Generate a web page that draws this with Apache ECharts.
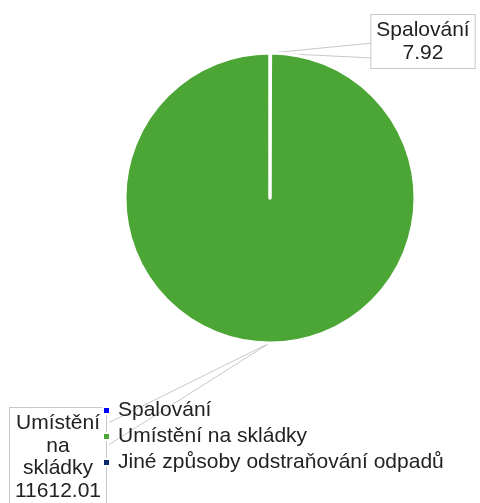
<!DOCTYPE html>
<html><head><meta charset="utf-8">
<script src="https://cdn.jsdelivr.net/npm/echarts@6/dist/echarts.min.js"></script>
<style>html,body{margin:0;padding:0;background:#fff}#c{width:480px;height:503px}</style>
</head><body><div id="c"></div>
<script>
const categories = ['Spalování', 'Umístění na skládky', 'Jiné způsoby odstraňování odpadů'];
const values = [7.92, 11612.01, 0];
const colors = ['#0000ff', '#4ca635', '#0c2a6e'];

const chart = echarts.init(document.getElementById('c'));
const FONT = 'Liberation Sans';
// label box centres
const boxPos = [
  {x: 423, y: 41.5, align: 'center', verticalAlign: 'middle'},
  {x: 58, y: 457, align: 'center', verticalAlign: 'middle'}
];
// callout wedge ends (two edges per label)
const wedgeA = [{x: 373, y: 43}, {x: 109, y: 423}];
const wedgeB = [{x: 373, y: 58}, {x: 109, y: 445}];

const pieBase = {
  type: 'pie',
  center: [270, 198], radius: 145,
  startAngle: 90, clockwise: true,
  avoidLabelOverlap: false
};
function guideSeries(ends) {
  return Object.assign({}, pieBase, {
    silent: true,
    itemStyle: {color: 'rgba(0,0,0,0)', borderWidth: 0},
    label: {show: true, formatter: ' ', fontSize: 1, padding: 0, color: 'rgba(0,0,0,0)'},
    labelLine: {show: true, length: 0, length2: 0, lineStyle: {color: '#c8c8c8', width: 1}},
    labelLayout: p => ends[p.dataIndex] ? {x: ends[p.dataIndex].x, y: ends[p.dataIndex].y, align: 'left', verticalAlign: 'middle'} : {},
    data: categories.map((n, i) => ({name: n, value: values[i], label: {show: i < 2}, labelLine: {show: i < 2}}))
  });
}
chart.setOption({
  animation: false,
  color: colors,
  legend: {
    orient: 'vertical', left: 102, top: 400, padding: 0,
    icon: 'rect', itemWidth: 7, itemHeight: 7, itemGap: 5,
    textStyle: {fontFamily: FONT, fontSize: 21, color: '#222', padding: [0, 0, 0, 3]},
    data: categories
  },
  series: [
    Object.assign({}, pieBase, {
      itemStyle: {borderColor: '#fff', borderWidth: 3},
      label: {
        show: true,
        fontFamily: FONT, fontSize: 21, color: '#222',
        lineHeight: 22.5,
        backgroundColor: '#fff', borderColor: '#c8c8c8', borderWidth: 1,
        padding: [4, 5, 4, 5],
        formatter: p => p.dataIndex === 1 ? p.name.split(' ').join('\n') + '\n' + p.value.toFixed(2) : p.name + '\n' + p.value
      },
      labelLine: {show: false},
      labelLayout: p => boxPos[p.dataIndex] || {},
      data: categories.map((n, i) => ({name: n, value: values[i], label: {show: i < 2}}))
    }),
    guideSeries(wedgeA),
    guideSeries(wedgeB)
  ]
});
</script></body></html>
